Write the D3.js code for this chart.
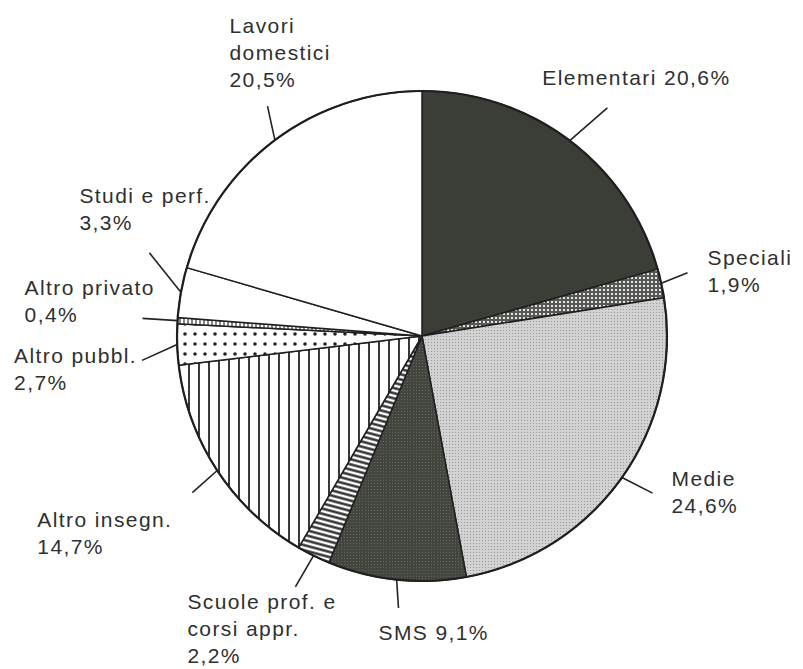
<!DOCTYPE html>
<html>
<head>
<meta charset="utf-8">
<script src="https://cdn.jsdelivr.net/npm/d3@7"></script>
<style>
  html, body { margin: 0; padding: 0; background: #fff; }
  svg { display: block; }
  .lbl { font-family: "Liberation Sans", Arial, Helvetica, sans-serif; font-size: 21px; letter-spacing: 1.4px; fill: #2f2f2f; }
</style>
</head>
<body>
<svg id="chart" width="803" height="669"></svg>
<script>
// slices, clockwise from 12 o'clock
const categories = ['Elementari', 'Speciali', 'Medie', 'SMS', 'Scuole prof. e corsi appr.',
  'Altro insegn.', 'Altro pubbl.', 'Altro privato', 'Studi e perf.', 'Lavori domestici'];
const shares = [20.6, 1.9, 24.6, 9.1, 2.2, 14.7, 2.7, 0.4, 3.3, 20.5];
// label text lines (value appended inline or on its own line)
const labelLines = [['Elementari'], ['Speciali'], ['Medie'], ['SMS'], ['Scuole prof. e', 'corsi appr.'],
  ['Altro insegn.'], ['Altro pubbl.'], ['Altro privato'], ['Studi e perf.'], ['Lavori', 'domestici']];
const valueInline = [true, false, false, true, false, false, false, false, false, false];

// layout of leaders / labels (leader length, tilt in degrees, label offset from leader end)
const leaderLen = [49, 28, 34, 28, 36, 33, 36, 35, 40, 32];
const leaderTilt = [2, -1, -1, -1, 0.5, -1, -3, 0, 6.7, 3];
const labelDx = [-65, 20, 19, -20, -108, -155, -128, -118, -70, -38];
const labelDy = [-23, -8, -7, 32, 22, 34, 3, -23, -50, -73];

const fills = ['#3b3e37', 'url(#pSpec)', 'url(#pMedie)', 'url(#pSms)', 'url(#pScuole)',
  'url(#pInsegn)', 'url(#pPubbl)', 'url(#pPriv)', '#fff', '#fff'];

const cx = 422, cy = 336, radius = 245, lineH = 27;

const svg = d3.select('#chart');
const defs = svg.append('defs');

// patterns imitating the printed screens
let p = defs.append('pattern').attr('id', 'pSpec').attr('patternUnits', 'userSpaceOnUse')
  .attr('width', 4).attr('height', 4);
p.append('rect').attr('width', 4).attr('height', 4).attr('fill', '#575955');
p.append('rect').attr('x', 1).attr('y', 1).attr('width', 2).attr('height', 2).attr('fill', '#e6e6e6');

p = defs.append('pattern').attr('id', 'pMedie').attr('patternUnits', 'userSpaceOnUse')
  .attr('width', 3).attr('height', 3);
p.append('rect').attr('width', 3).attr('height', 3).attr('fill', '#d2d2d2');
p.append('rect').attr('width', 1).attr('height', 1).attr('fill', '#999');

p = defs.append('pattern').attr('id', 'pSms').attr('patternUnits', 'userSpaceOnUse')
  .attr('width', 3).attr('height', 3);
p.append('rect').attr('width', 3).attr('height', 3).attr('fill', '#43463f');
p.append('rect').attr('width', 1).attr('height', 1).attr('fill', '#63655f');

p = defs.append('pattern').attr('id', 'pScuole').attr('patternUnits', 'userSpaceOnUse')
  .attr('width', 10).attr('height', 5).attr('patternTransform', 'rotate(15)');
p.append('rect').attr('width', 10).attr('height', 5).attr('fill', '#fff');
p.append('line').attr('x1', 0).attr('x2', 10).attr('y1', 2.5).attr('y2', 2.5)
  .attr('stroke', '#2a2a2a').attr('stroke-width', 2.4);

p = defs.append('pattern').attr('id', 'pInsegn').attr('patternUnits', 'userSpaceOnUse')
  .attr('width', 10).attr('height', 10).attr('x', 2);
p.append('rect').attr('width', 10).attr('height', 10).attr('fill', '#fff');
p.append('line').attr('x1', 5).attr('x2', 5).attr('y1', 0).attr('y2', 10)
  .attr('stroke', '#222').attr('stroke-width', 1.8);

p = defs.append('pattern').attr('id', 'pPubbl').attr('patternUnits', 'userSpaceOnUse')
  .attr('width', 10).attr('height', 10).attr('x', -2).attr('y', 3);
p.append('rect').attr('width', 10).attr('height', 10).attr('fill', '#fff');
p.append('circle').attr('cx', 5).attr('cy', 5).attr('r', 1.8).attr('fill', '#222');

p = defs.append('pattern').attr('id', 'pPriv').attr('patternUnits', 'userSpaceOnUse')
  .attr('width', 4).attr('height', 4);
p.append('rect').attr('width', 4).attr('height', 4).attr('fill', '#fff');
p.append('line').attr('x1', 2).attr('x2', 2).attr('y1', 0).attr('y2', 4)
  .attr('stroke', '#333').attr('stroke-width', 1.2);

const pie = d3.pie().sort(null).value(d => d);
const arcs = pie(shares);
const arc = d3.arc().innerRadius(0).outerRadius(radius);

const g = svg.append('g').attr('transform', `translate(${cx},${cy})`);

g.selectAll('path.slice')
  .data(arcs)
  .join('path')
  .attr('class', 'slice')
  .attr('d', arc)
  .attr('fill', (d, i) => fills[i])
  .attr('stroke', '#1f1f1f')
  .attr('stroke-width', 1.5)
  .attr('stroke-linejoin', 'round');

g.append('circle')
  .attr('r', radius)
  .attr('fill', 'none')
  .attr('stroke', '#1f1f1f')
  .attr('stroke-width', 2.2);

const polar = (a, r) => [r * Math.sin(a), -r * Math.cos(a)];
const fmt = d3.formatLocale({decimal: ',', thousands: '.', grouping: [3], currency: ['', '']}).format('.1f');

arcs.forEach((d, i) => {
  const mid = (d.startAngle + d.endAngle) / 2;
  const [x0, y0] = polar(mid, radius);
  const [x1, y1] = polar(mid + leaderTilt[i] * Math.PI / 180, radius + leaderLen[i]);

  g.append('line')
    .attr('x1', x0).attr('y1', y0)
    .attr('x2', x1).attr('y2', y1)
    .attr('stroke', '#222')
    .attr('stroke-width', 1.6);

  const valueText = fmt(shares[i]) + '%';
  let lines = labelLines[i].slice();
  if (valueInline[i]) {
    lines[lines.length - 1] += ' ' + valueText;
  } else {
    lines.push(valueText);
  }

  const t = g.append('text')
    .attr('class', 'lbl')
    .attr('x', x1 + labelDx[i])
    .attr('y', y1 + labelDy[i]);
  t.selectAll('tspan')
    .data(lines)
    .join('tspan')
    .attr('x', x1 + labelDx[i])
    .attr('dy', (s, k) => k === 0 ? 0 : lineH)
    .text(s => s);
});
</script>
</body>
</html>
